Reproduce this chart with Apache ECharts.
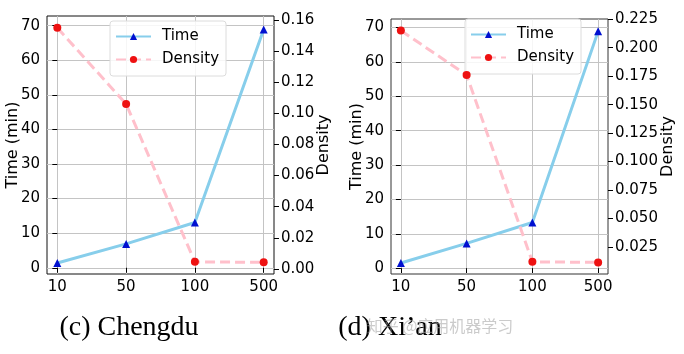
<!DOCTYPE html>
<html>
<head>
<meta charset="utf-8">
<script src="https://cdn.jsdelivr.net/npm/echarts@6/dist/echarts.min.js"></script>
<style>
html,body{margin:0;padding:0;background:#fff;}
#chart{width:684px;height:354px;}
</style>
</head>
<body>
<div id="chart"></div>
<script>
// ---- data ----
const categories = ['10', '50', '100', '500'];
const timeTicks = [0, 10, 20, 30, 40, 50, 60, 70];
const chengduTime = [1.4, 6.9, 13.1, 68.9];
const chengduDensity = [0.155, 0.106, 0.0045, 0.0042];
const chengduDensityTicks = [0, 0.02, 0.04, 0.06, 0.08, 0.10, 0.12, 0.14, 0.16];
const xianTime = [1.5, 7.2, 13.3, 68.9];
const xianDensity = [0.215, 0.176, 0.012, 0.0115];
const xianDensityTicks = [0.025, 0.05, 0.075, 0.1, 0.125, 0.15, 0.175, 0.2, 0.225];
const captions = ['(c) Chengdu', '(d) Xi\u2019an'];
const watermark = '知乎 @应用机器学习';

const idx = [0, 1, 2, 3];
const pairs = arr => arr.map((v, i) => [idx[i], v]);
const FONT = 'DejaVu Sans';
const FS = 15;

function xAxisFor(gi) {
  return {
    type: 'value', gridIndex: gi, min: -0.15, max: 3.15,
    axisLine: { show: false },
    axisTick: { show: true, length: 5, inside: false, customValues: idx, lineStyle: { color: '#000', width: 1 } },
    axisLabel: { customValues: idx, margin: 6, color: '#000', fontFamily: FONT, fontSize: FS,
      formatter: v => categories[Math.round(v)] },
    splitLine: { show: true, lineStyle: { color: '#c4c4c4', width: 1 } }
  };
}
function timeAxis(gi, min, max, gap) {
  return {
    type: 'value', gridIndex: gi, min: min, max: max, position: 'left',
    name: 'Time (min)', nameLocation: 'middle', nameGap: gap, nameMoveOverlap: false,
    nameTextStyle: { color: '#000', fontFamily: FONT, fontSize: 16 },
    axisLine: { show: false },
    axisTick: { show: true, length: 5, customValues: timeTicks, lineStyle: { color: '#000' } },
    axisLabel: { customValues: timeTicks, margin: 7, color: '#000', fontFamily: FONT, fontSize: FS,
      formatter: v => String(Math.round(v)) },
    splitLine: { show: true, lineStyle: { color: '#c4c4c4', width: 1 } }
  };
}
function densAxis(gi, min, max, ticks, dec, gap) {
  return {
    type: 'value', gridIndex: gi, min: min, max: max, position: 'right',
    name: 'Density', nameLocation: 'middle', nameGap: gap, nameMoveOverlap: false,
    nameTextStyle: { color: '#000', fontFamily: FONT, fontSize: 16 },
    axisLine: { show: false },
    axisTick: { show: true, length: 5, customValues: ticks, lineStyle: { color: '#000' } },
    axisLabel: { customValues: ticks, margin: 7, color: '#000', fontFamily: FONT, fontSize: FS,
      formatter: v => Number(v).toFixed(dec) },
    splitLine: { show: false }
  };
}
function timeSeries(xi, yi, data) {
  return {
    name: 'Time', type: 'line', xAxisIndex: xi, yAxisIndex: yi, data: pairs(data),
    symbol: 'triangle', symbolSize: 8, showSymbol: true,
    itemStyle: { color: '#0010d0' },
    lineStyle: { color: '#87CEEB', width: 3 },
    z: 3, animation: false
  };
}
function densSeries(xi, yi, data) {
  return {
    name: 'Density', type: 'line', xAxisIndex: xi, yAxisIndex: yi, data: pairs(data),
    symbol: 'circle', symbolSize: 8, showSymbol: true,
    itemStyle: { color: '#ee1111' },
    lineStyle: { color: '#FFC0CB', width: 3, type: [10, 5] },
    z: 4, animation: false
  };
}
function legendAt(left, top) {
  return {
    orient: 'vertical', left: left, top: top,
    data: ['Time', 'Density'],
    itemWidth: 35, itemHeight: 9, itemGap: 8,
    padding: [8, 7, 9, 5],
    backgroundColor: 'rgba(255,255,255,0.85)',
    borderColor: '#dcdcdc', borderWidth: 1, borderRadius: 3,
    textStyle: { color: '#000', fontFamily: FONT, fontSize: FS, padding: [0, 0, 0, 6] },
    selectedMode: false
  };
}

const chart = echarts.init(document.getElementById('chart'), null, { renderer: 'canvas' });
chart.setOption({
  backgroundColor: '#fff',
  animation: false,
  grid: [
    { left: 47, top: 16, width: 227, height: 258, show: true, borderColor: '#111', borderWidth: 1, backgroundColor: 'transparent' },
    { left: 391, top: 19, width: 217, height: 255, show: true, borderColor: '#333', borderWidth: 1, backgroundColor: 'transparent' }
  ],
  legend: [legendAt(110, 21), legendAt(465, 19)],
  xAxis: [xAxisFor(0), xAxisFor(1)],
  yAxis: [
    timeAxis(0, -1.8, 72.8, 26),
    densAxis(0, -0.0033, 0.1626, chengduDensityTicks, 2, 42),
    timeAxis(1, -1.7, 72.5, 26),
    densAxis(1, 0.0013, 0.2252, xianDensityTicks, 3, 52)
  ],
  series: [
    timeSeries(0, 0, chengduTime),
    densSeries(0, 1, chengduDensity),
    timeSeries(1, 2, xianTime),
    densSeries(1, 3, xianDensity)
  ],
  graphic: [
    { type: 'text', style: { text: captions[0], font: '28px "Liberation Serif"', fill: '#000', x: 129, y: 328, align: 'center', verticalAlign: 'middle' } },
    { type: 'text', style: { text: captions[1], font: '28px "Liberation Serif"', fill: '#000', x: 390, y: 328, align: 'center', verticalAlign: 'middle' } },
    { type: 'text', z: 100, style: { text: watermark, font: '16px "Noto Sans CJK SC"', fill: 'rgba(160,160,160,0.55)', x: 440, y: 326, align: 'center', verticalAlign: 'middle' } }
  ]
});
</script>
</body>
</html>
